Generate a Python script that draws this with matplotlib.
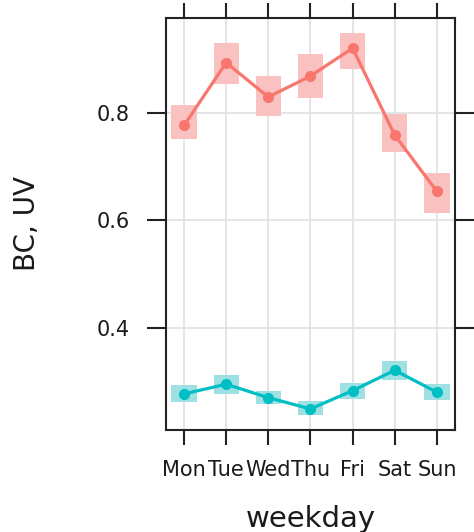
import matplotlib.pyplot as plt
from matplotlib.patches import Rectangle

days = ["Mon", "Tue", "Wed", "Thu", "Fri", "Sat", "Sun"]

bc_mean = [0.777, 0.894, 0.830, 0.869, 0.921, 0.759, 0.654]
bc_low = [0.752, 0.855, 0.795, 0.828, 0.883, 0.728, 0.614]
bc_high = [0.815, 0.931, 0.869, 0.911, 0.950, 0.798, 0.689]

uv_mean = [0.277, 0.295, 0.270, 0.249, 0.283, 0.321, 0.280]
uv_low = [0.262, 0.277, 0.259, 0.238, 0.268, 0.303, 0.266]
uv_high = [0.294, 0.313, 0.283, 0.263, 0.298, 0.338, 0.296]

yticks = [0.4, 0.6, 0.8]

plt.rcParams['font.family'] = ['DejaVu Sans']

fig = plt.figure(figsize=(4.74, 5.32), dpi=100)
ax = fig.add_axes([0.350, 0.192, 0.610, 0.774])

x = list(range(1, len(days) + 1))

for mean, low, high, line_col, box_col in [
        (bc_mean, bc_low, bc_high, "#F8766D", "#F9C2C0"),
        (uv_mean, uv_low, uv_high, "#00BFC4", "#9FE0E3")]:
    for xi, lo, hi in zip(x, low, high):
        ax.add_patch(Rectangle((xi - 0.3, lo), 0.6, hi - lo,
                               facecolor=box_col, edgecolor="none", zorder=2))
    ax.plot(x, mean, color=line_col, lw=2.3, marker="o", ms=7, zorder=3)

ax.set_xlim(0.57, 7.43)
ax.set_ylim(0.21, 0.977)
ax.set_xticks(x)
ax.set_xticklabels(days)
ax.set_yticks(yticks)
ax.set_yticklabels([f"{v:.1f}" for v in yticks])

ax.grid(True, color="#E3E3E3", lw=1.3, zorder=0)
ax.set_axisbelow(True)

ax.tick_params(axis="both", direction="out", width=1.5, color="#222222",
               labelsize=15, labelcolor="#1a1a1a", top=True, right=True,
               labeltop=False, labelright=False)
ax.tick_params(axis="x", length=11, pad=11)
ax.tick_params(axis="y", length=14, pad=12)
for s in ax.spines.values():
    s.set_linewidth(1.5)
    s.set_color("#222222")

ax.set_xlabel("weekday", fontsize=21, labelpad=18, color="#1a1a1a")
ax.set_ylabel("BC, UV", fontsize=20, labelpad=40, color="#1a1a1a")

fig.savefig("out.png", dpi=100)
